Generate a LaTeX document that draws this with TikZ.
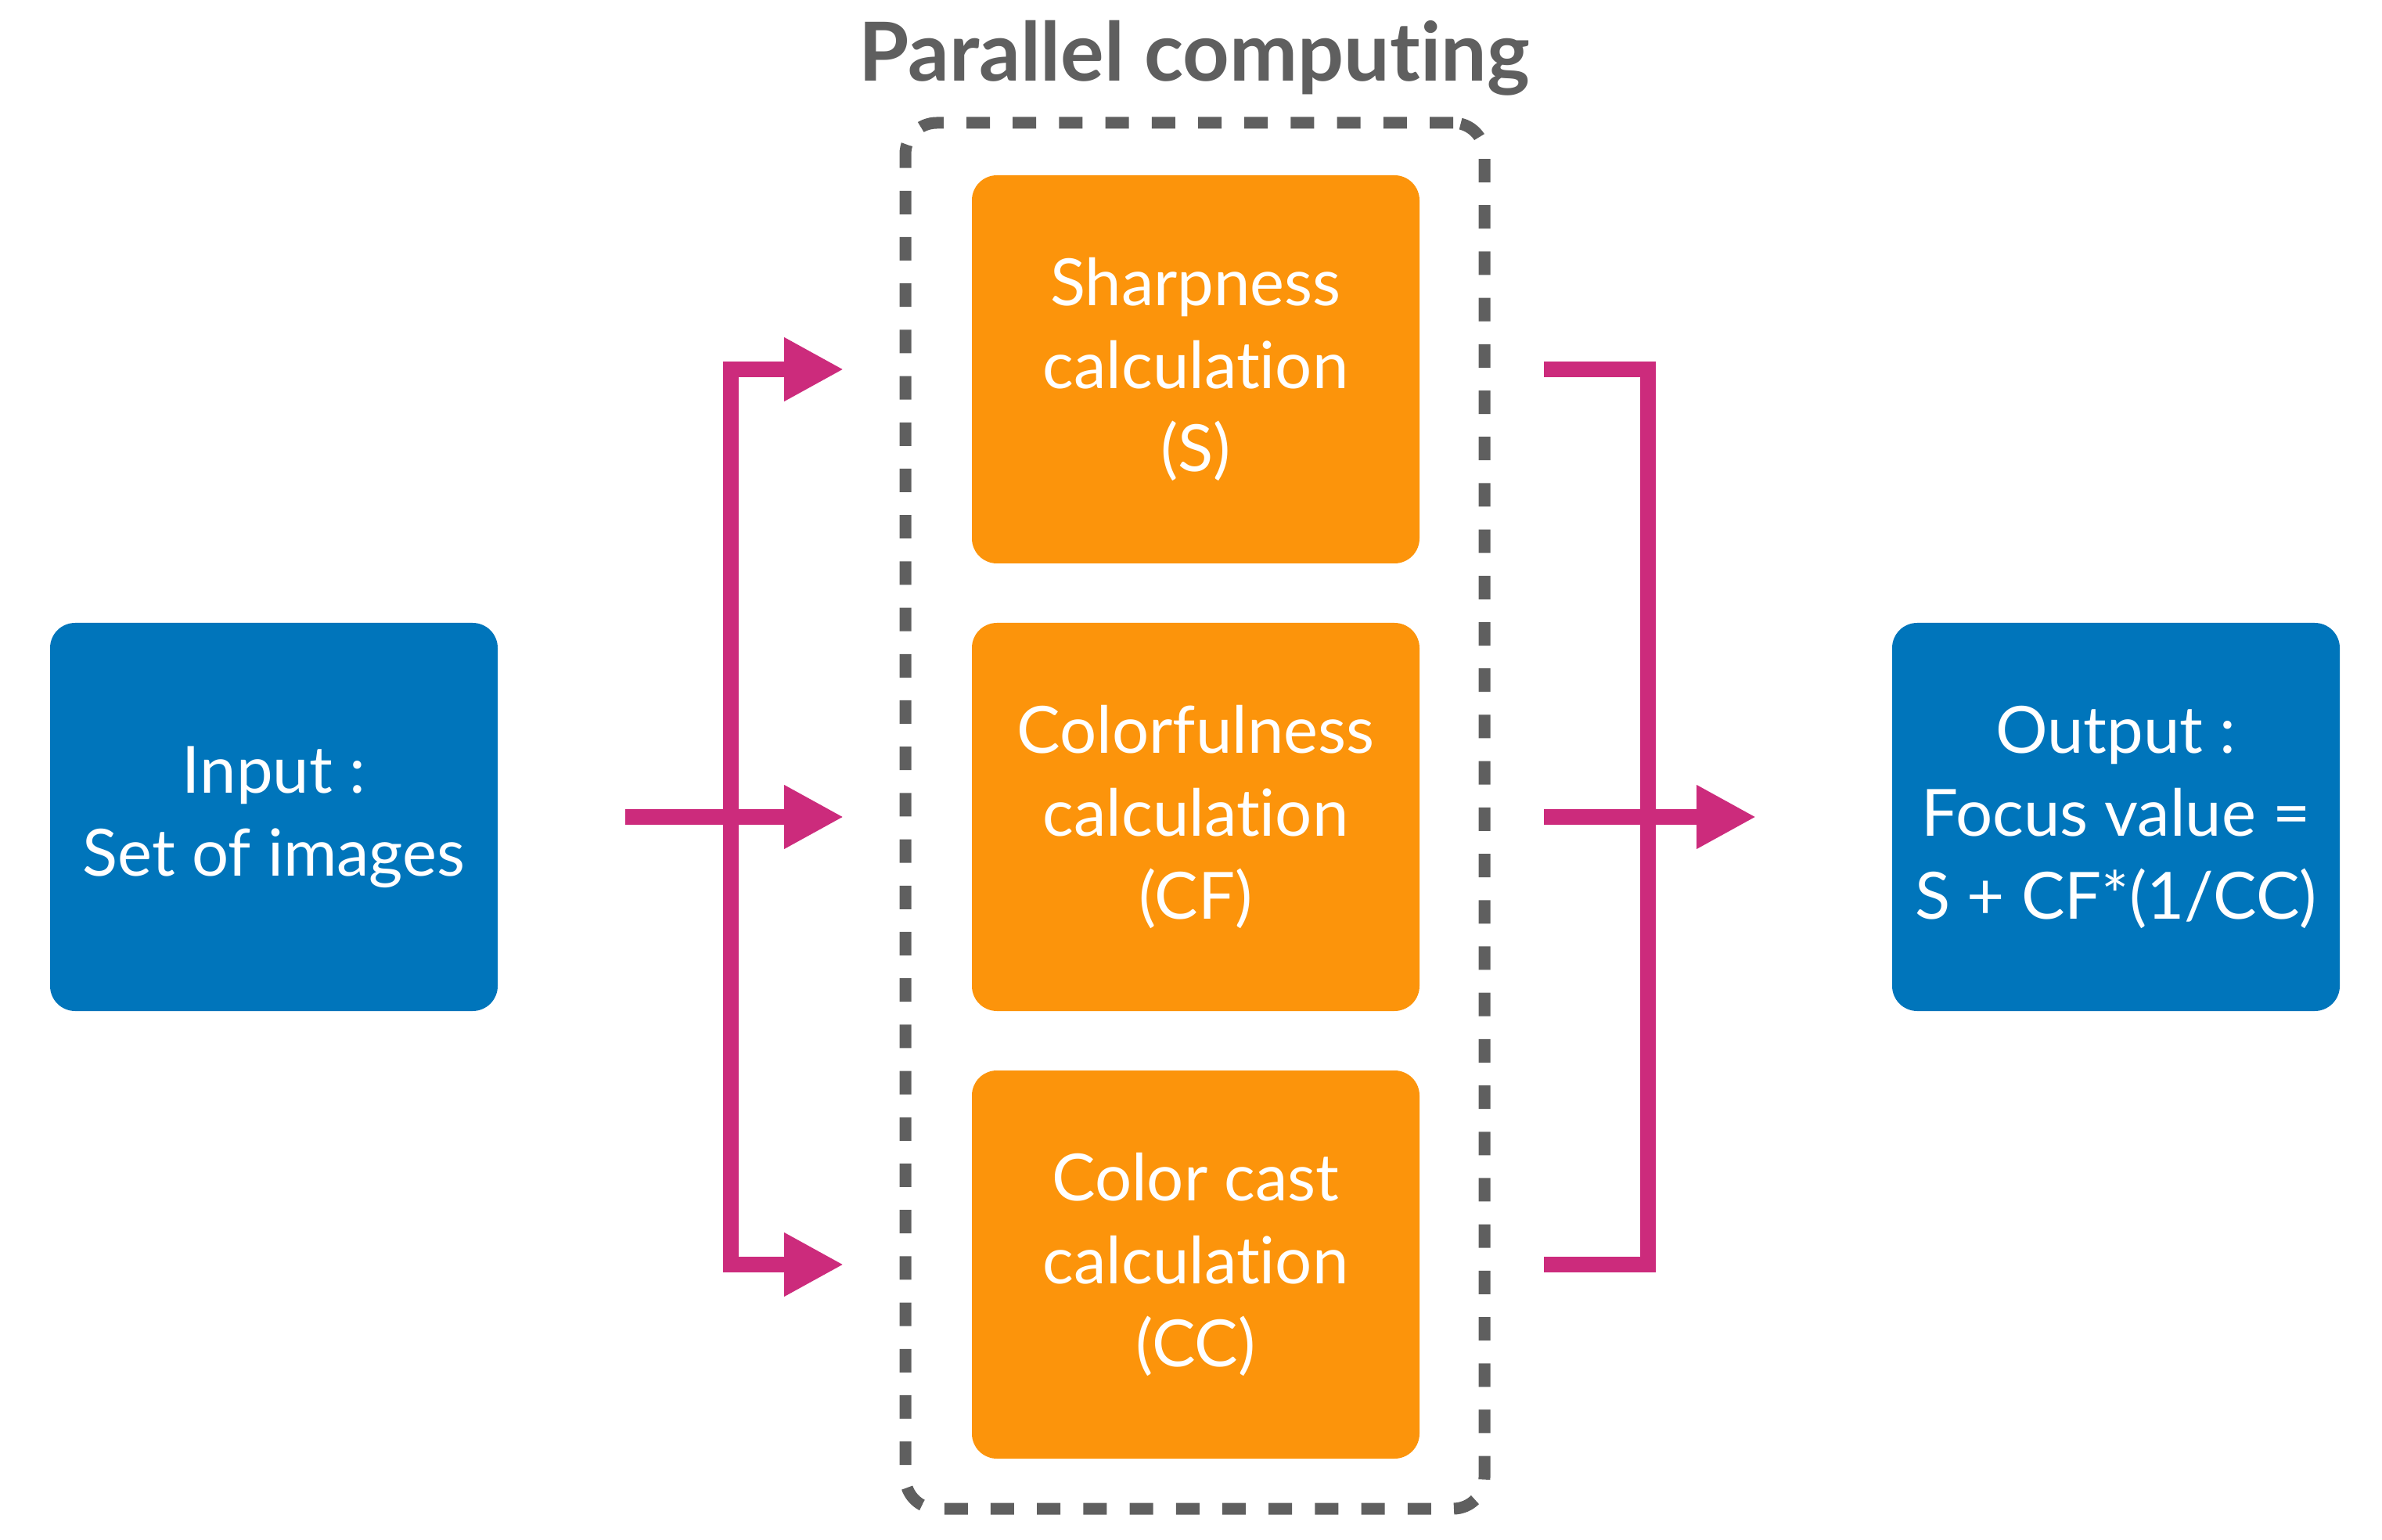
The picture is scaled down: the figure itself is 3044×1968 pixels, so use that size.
\documentclass[tikz,border=0pt]{standalone}
\usepackage{fontspec}
\setmainfont{Lato}[Ligatures={NoCommon,NoRare,NoContextual}]
\usetikzlibrary{arrows.meta}
\definecolor{boxblue}{HTML}{0075BB}
\definecolor{boxorange}{HTML}{FC940B}
\definecolor{flowpink}{HTML}{CC2B7C}
\definecolor{dashgray}{HTML}{5F5F5F}
\begin{document}
\begin{tikzpicture}[x=0.25pt,y=-0.25pt,
  basebox/.style={rounded corners=8pt, minimum width=143pt, minimum height=124pt,
    inner sep=0pt, text=white, align=center, font=\fontsize{20.8}{26.5}\selectfont},
  bluebox/.style={basebox, fill=boxblue},
  orangebox/.style={basebox, fill=boxorange},
  parbox/.style={draw=dashgray, line width=3.75pt, dash pattern=on 7.5pt off 7.3pt,
    rounded corners=10pt, minimum width=185pt, minimum height=442.75pt, inner sep=0pt},
  flow/.style={draw=flowpink, line width=5pt, line join=miter},
  headtip/.style={arrows={-Triangle[length=19pt,width=19pt]}},
  bothtips/.style={arrows={Triangle[length=19pt,width=19pt]-Triangle[length=19pt,width=19pt]}},
  titletext/.style={text=dashgray, font=\bfseries\fontsize{26}{29}\selectfont, inner sep=0pt}
]
\useasboundingbox (0,0) rectangle (3044,1968);

\node[titletext, anchor=base] (title) at (1526,104) {Parallel computing};
\node[parbox] (par) at (1527,1042.5) {};

\node[bluebox] (in) at (350,1044) {Input :\\Set of images};
\node[orangebox] (s) at (1528,472) {Sharpness\\calculation\\(S)};
\node[orangebox] (cf) at (1528,1044) {Colorfulness\\calculation\\(CF)};
\node[orangebox] (cc) at (1528,1616) {Color cast\\calculation\\(CC)};
\node[bluebox] (out) at (2704,1044) {Output :\\Focus value =\\S + CF*(1/CC)};

\coordinate (jl) at (934,1044);
\coordinate (jr) at (2106,1044);

\draw[flow, headtip, shorten <=40.5pt, shorten >=40.75pt] (in.east) -- (cf.west);
\draw[flow, bothtips, shorten <=40.75pt, shorten >=40.75pt]
  (s.west) -- (s.west -| jl) -- (cc.west -| jl) -- (cc.west);
\draw[flow, shorten <=39.5pt, shorten >=39.5pt]
  (s.east) -- (s.east -| jr) -- (cc.east -| jr) -- (cc.east);
\draw[flow, headtip, shorten <=39.5pt, shorten >=43.25pt] (cf.east) -- (out.west);
\end{tikzpicture}
\end{document}
